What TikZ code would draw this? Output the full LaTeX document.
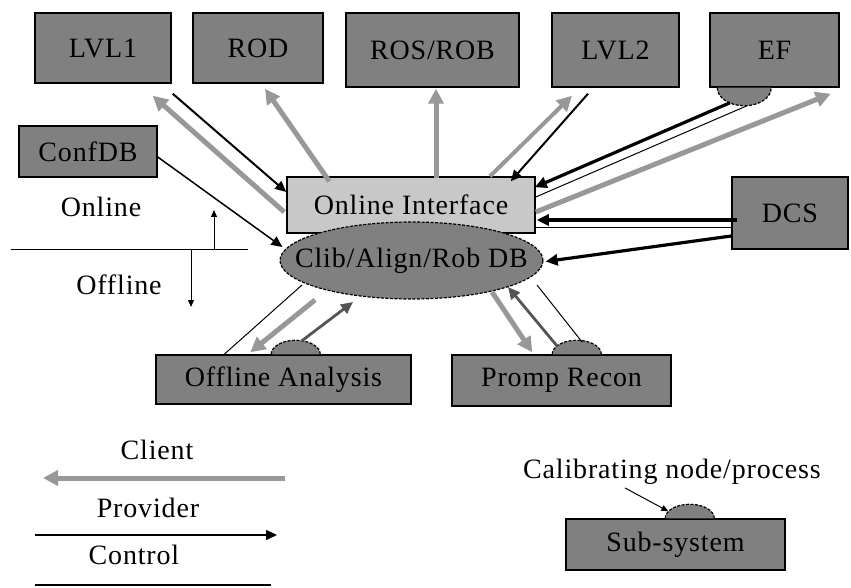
\documentclass[tikz,border=0pt]{standalone}
\usepackage{fontspec}
\setmainfont[LetterSpace=3]{Liberation Serif}
\usetikzlibrary{arrows.meta,calc,shapes.geometric}
\definecolor{boxgray}{RGB}{128,128,128}
\definecolor{lightbox}{RGB}{200,200,200}
\definecolor{clientgray}{RGB}{152,152,152}
\definecolor{darkline}{RGB}{85,85,85}
\begin{document}
\begin{tikzpicture}[x=1pt,y=-1pt,
  every node/.style={font=\fontsize{28}{30}\selectfont},
  box/.style={draw=black,line width=1.5pt,fill=boxgray,inner sep=0pt},
  litebox/.style={box,fill=lightbox},
  dbshape/.style={ellipse,draw=black,line width=1.2pt,dash pattern=on 3pt off 1.5pt,fill=boxgray,inner sep=0pt},
  bump/.style={draw=black,line width=1.2pt,dash pattern=on 3pt off 1.5pt,fill=boxgray},
  client/.style={draw=clientgray,line width=5pt,-{Triangle[length=15pt,width=15pt]}},
  prov/.style={draw=black,line width=2pt,-{Triangle[length=11pt,width=10pt]}},
  provthick/.style={draw=black,line width=3.2pt,-{Triangle[length=12pt,width=11pt]}},
  ctrl/.style={draw=black,line width=1pt},
  darkarrow/.style={draw=darkline,line width=2.8pt,-{Triangle[length=12pt,width=11pt]}},
  smallarrow/.style={draw=black,line width=1pt,-{Triangle[length=7pt,width=6pt]}},
  plain/.style={inner sep=0pt}]
\path[use as bounding box,fill=white] (0,0) rectangle (851,588);

\node[box,minimum width=136pt,minimum height=70pt] (lvl1) at (103,48) {LVL1};
\node[box,minimum width=130pt,minimum height=70pt] (rod) at (258,48) {ROD};
\node[box,minimum width=173pt,minimum height=74pt] (ros) at (432.5,50) {ROS/ROB};
\node[box,minimum width=127pt,minimum height=74pt] (lvl2) at (615.5,50) {LVL2};
\node[box,minimum width=129pt,minimum height=74pt] (ef) at (774.5,50) {EF};
\node[box,minimum width=138pt,minimum height=51pt] (confdb) at (88,151.5) {ConfDB};
\node[litebox,minimum width=248pt,minimum height=56pt] (oi) at (411,205) {Online Interface};
\node[dbshape,minimum width=263pt,minimum height=77pt] (db) at (411.5,260.5) {};
\node[plain] (dbtext) at (db.center) {Clib/Align/Rob DB};
\node[box,minimum width=116pt,minimum height=72pt] (dcs) at (790,213) {DCS};
\node[box,minimum width=255pt,minimum height=49pt] (oa) at (283.5,379.5) {Offline Analysis};
\node[box,minimum width=219pt,minimum height=51pt] (pr) at (561.5,380.5) {Promp Recon};
\node[box,minimum width=219pt,minimum height=51pt] (sub) at (675.5,544.5) {Sub-system};

% calibrating node bumps
\path[bump] ($(ef.south west)+(8,0)$) arc[start angle=180,end angle=0,x radius=27,y radius=18];
\path[bump] ($(oa.north west)+(116,0)$) arc[start angle=180,end angle=360,x radius=24.5,y radius=14];
\path[bump] ($(pr.north west)+(101,0)$) arc[start angle=180,end angle=360,x radius=24.5,y radius=14];
\path[bump] ($(sub.north west)+(100,0)$) arc[start angle=180,end angle=360,x radius=24.5,y radius=14];

% free texts
\node[plain] (online) at (101,207) {Online};
\node[plain] (offline) at (119,285) {Offline};
\node[plain] (clientlbl) at (157,450) {Client};
\node[plain] (provlbl) at (148,508) {Provider};
\node[plain] (ctrllbl) at (134,555) {Control};
\node[plain] (calib) at (672,472) {Calibrating node/process};

% online/offline divider
\coordinate (divL) at (11,249);
\coordinate (divR) at (248,249);
\coordinate (upE) at (214,210);
\coordinate (dnE) at (191,307);
\draw[ctrl] (divL) -- (divR);
\draw[smallarrow] (divL -| upE) -- (upE);
\draw[smallarrow] (divL -| dnE) -- (dnE);

% top connectors
\draw[prov] ($(lvl1.south east)+(1,10)$) -- ($(oi.west)+(0,-13)$);
\draw[client] ($(oi.west)+(-2,7)$) -- ($(lvl1.south east)+(-19,12)$);
\draw[client] ($(oi.north west)+(43,5)$) -- ($(rod.south)+(7,5)$);
\draw[prov,line width=1.5pt] ($(confdb.east)+(0,5.5)$) -- ($(db.west)+(3,-13.5)$);
\draw[client] ($(ros.south)+(3.5,90)$) -- ($(ros.south)+(3.5,1)$);
\draw[client,line width=4pt] ($(oi.north)+(79,0)$) -- ($(lvl2.south)+(-43.5,8)$);
\draw[prov] ($(lvl2.south)+(-27.5,6)$) -- ($(oi.north east)+(-25,5)$);
\draw[provthick] ($(ef.south)+(-44.5,15)$) -- ($(oi.north east)+(-1,11)$);
\draw[ctrl] ($(ef.south)+(-27.5,18)$) -- ($(oi.east)+(0,-8)$);
\draw[client] ($(oi.east)+(0,7)$) -- ($(ef.south east)+(-9,6)$);
\draw[provthick] ($(dcs.west)+(6,7)$) -- ($(oi.east)+(1,15)$);
\draw[ctrl] ($(dcs.west)+(0,14)$) -- ($(oi.east)+(0,22)$);
\draw[provthick] ($(dcs.west)+(0,23)$) -- ($(db.east)+(2,1)$);

% lower connectors
\draw[ctrl] ($(db.center)+(-109.5,24.5)$) -- ($(oa.north west)+(69,0)$);
\draw[client] ($(db.center)+(-96.5,39.5)$) -- ($(oa.north west)+(95,-2)$);
\draw[darkarrow] ($(oa.north west)+(146,-13)$) -- ($(db.center)+(-58.5,41.5)$);
\draw[client] ($(db.center)+(80.5,31.5)$) -- ($(pr.north west)+(81,-2)$);
\draw[darkarrow] ($(pr.north west)+(106,-8)$) -- ($(db.center)+(96.5,26.5)$);
\draw[ctrl] ($(db.center)+(125.5,24.5)$) -- ($(pr.north west)+(131,-12)$);

% calibrating pointer
\draw[smallarrow] ($(calib.south)+(-47,3)$) -- ($(sub.north west)+(103,-7)$);

% legend
\coordinate (cliS) at (285,478);
\coordinate (cliE) at (43,478);
\coordinate (proS) at (35,535);
\coordinate (proE) at (277,535);
\coordinate (conS) at (35,585);
\coordinate (conE) at (271,585);
\draw[client] (cliS) -- (cliE);
\draw[prov,line width=1.5pt] (proS) -- (proE);
\draw[ctrl,line width=1.5pt] (conS) -- (conE);
\end{tikzpicture}
\end{document}
